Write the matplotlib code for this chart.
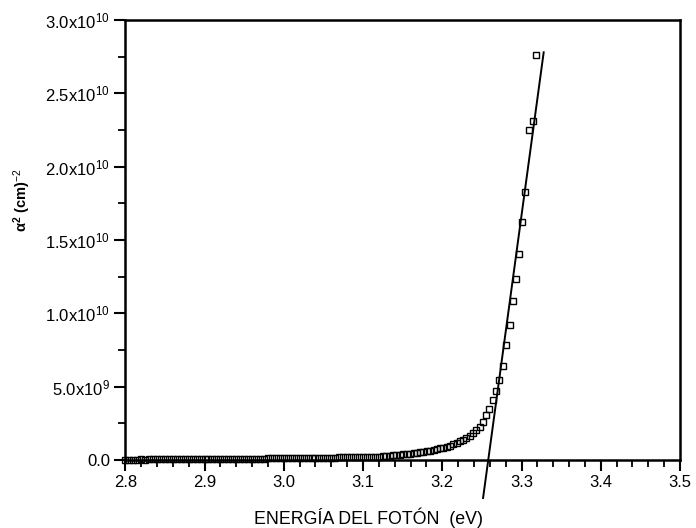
import matplotlib.pyplot as plt
from matplotlib.ticker import FixedLocator, MultipleLocator

plt.rcParams['font.family'] = ['Liberation Sans', 'DejaVu Sans']
plt.rcParams['mathtext.fontset'] = 'custom'
plt.rcParams['mathtext.rm'] = 'Liberation Sans'
plt.rcParams['mathtext.it'] = 'Liberation Sans:italic'
plt.rcParams['mathtext.bf'] = 'Liberation Sans:bold'

# photon energy (eV) and alpha^2 (units of 1e9 cm^-2)
energy = [
    2.800, 2.805, 2.810, 2.815, 2.820, 2.825, 2.830, 2.835, 2.840, 2.845,
    2.850, 2.855, 2.860, 2.865, 2.870, 2.875, 2.880, 2.885, 2.890, 2.895,
    2.900, 2.905, 2.910, 2.915, 2.920, 2.925, 2.930, 2.935, 2.940, 2.945,
    2.950, 2.955, 2.960, 2.965, 2.970, 2.975, 2.980, 2.985, 2.990, 2.995,
    3.000, 3.005, 3.010, 3.015, 3.020, 3.025, 3.030, 3.035, 3.040, 3.045,
    3.050, 3.055, 3.060, 3.065, 3.070, 3.075, 3.080, 3.085, 3.090, 3.095,
    3.100, 3.105, 3.110, 3.115,
    3.120, 3.125, 3.129, 3.134, 3.138, 3.142, 3.147, 3.151, 3.155, 3.159,
    3.164, 3.168, 3.172, 3.176, 3.181, 3.185, 3.189, 3.193, 3.197, 3.201,
    3.206, 3.210, 3.214, 3.218, 3.222, 3.226, 3.230, 3.235, 3.239, 3.243,
    3.247, 3.251, 3.255, 3.259, 3.264, 3.268, 3.272, 3.277, 3.281, 3.286,
    3.289, 3.293, 3.297, 3.301, 3.305, 3.310, 3.314, 3.318,
]
alpha2 = [
    0.02, 0.02, 0.02, 0.02, 0.03, 0.02, 0.03, 0.03, 0.03, 0.03,
    0.03, 0.04, 0.04, 0.04, 0.04, 0.04, 0.05, 0.04, 0.05, 0.05,
    0.05, 0.05, 0.06, 0.06, 0.06, 0.07, 0.07, 0.07, 0.07, 0.08,
    0.08, 0.08, 0.08, 0.09, 0.09, 0.09, 0.10, 0.10, 0.10, 0.11,
    0.11, 0.11, 0.12, 0.12, 0.12, 0.13, 0.13, 0.13, 0.14, 0.14,
    0.15, 0.15, 0.16, 0.16, 0.17, 0.17, 0.18, 0.18, 0.19, 0.19,
    0.20, 0.21, 0.21, 0.22,
    0.23, 0.25, 0.26, 0.28, 0.30, 0.32, 0.34, 0.37, 0.40, 0.43,
    0.46, 0.49, 0.52, 0.56, 0.60, 0.64, 0.68, 0.73, 0.78, 0.84,
    0.91, 0.98, 1.06, 1.16, 1.26, 1.37, 1.48, 1.64, 1.82, 2.03,
    2.27, 2.61, 3.07, 3.46, 4.09, 4.70, 5.45, 6.41, 7.84, 9.20,
    10.86, 12.32, 14.05, 16.25, 18.30, 22.50, 23.10, 27.60,
]

# linear fit of the absorption edge
fit_x = [3.2515, 3.328]
fit_y = [-2.6, 27.8]

y_ticks = [0, 5e9, 1e10, 1.5e10, 2e10, 2.5e10, 3e10]
y_labels = ['0.0', r'5.0x10$^{9}$', r'1.0x10$^{10}$', r'1.5x10$^{10}$',
            r'2.0x10$^{10}$', r'2.5x10$^{10}$', r'3.0x10$^{10}$']
x_ticks = [2.8, 2.9, 3.0, 3.1, 3.2, 3.3, 3.4, 3.5]

fig = plt.figure(figsize=(6.96, 5.28), dpi=100)
ax = fig.add_axes([0.18, 0.129, 0.797, 0.833])

ax.plot(energy, [v * 1e9 for v in alpha2], 's', mfc='none', mec='black',
        ms=4.2, mew=1.0, clip_on=False, zorder=3)
ax.plot(fit_x, [v * 1e9 for v in fit_y], color='black', lw=1.4,
        clip_on=False, zorder=4)

ax.set_xlim(2.8, 3.5)
ax.set_ylim(0, 3e10)

ax.xaxis.set_major_locator(FixedLocator(x_ticks))
ax.xaxis.set_minor_locator(MultipleLocator(0.02))
ax.set_xticklabels([f'{t:.1f}' for t in x_ticks], fontsize=12)
ax.yaxis.set_major_locator(FixedLocator(y_ticks))
ax.yaxis.set_minor_locator(MultipleLocator(2.5e9))
ax.set_yticklabels(y_labels, fontsize=12)

ax.tick_params(which='major', direction='out', length=8, width=1.5,
               top=False, right=False, pad=3)
ax.tick_params(which='minor', direction='out', length=5, width=1.3,
               top=False, right=False)

for s in ax.spines.values():
    s.set_linewidth(1.8)

ax.set_xlabel('ENERGÍA DEL FOTÓN  (eV)', fontsize=12.8, va='center')
ax.xaxis.set_label_coords(0.438, -0.132)
fig.text(22 / 696, 1 - 200 / 528, r'$\mathbf{\alpha^{2}}$ (cm)$^{-2}$',
         rotation=90, ha='center', va='center', fontsize=10.5,
         fontweight='bold')

fig.savefig('out.png', dpi=100)
